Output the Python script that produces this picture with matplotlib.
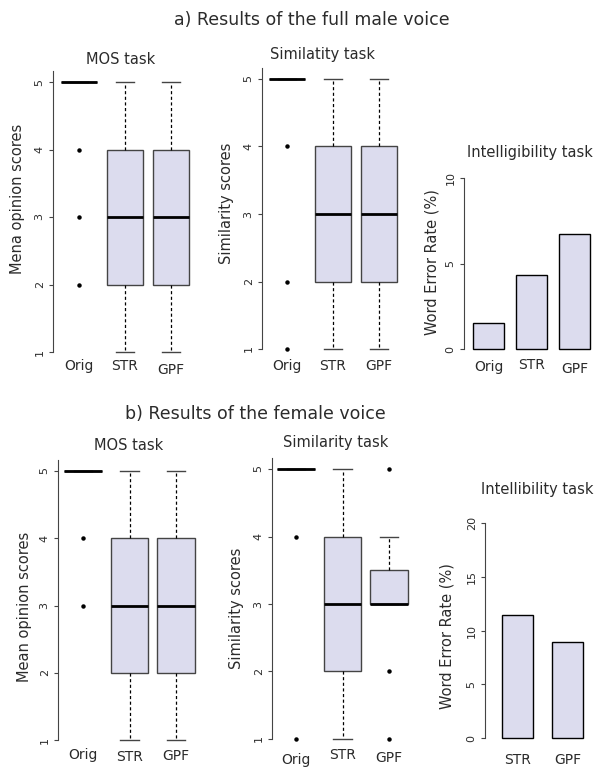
import matplotlib
matplotlib.use('Agg')
import matplotlib.pyplot as plt

# ---- data ----
groups = ['Orig', 'STR', 'GPF']

# box statistics (q1, median, q3, whisker low, whisker high, outliers)
mos_male_q1 = [5, 2, 2]
mos_male_med = [5, 3, 3]
mos_male_q3 = [5, 4, 4]
mos_male_lo = [5, 1, 1]
mos_male_hi = [5, 5, 5]
mos_male_out = [[4, 3, 2], [], []]

sim_male_q1 = [5, 2, 2]
sim_male_med = [5, 3, 3]
sim_male_q3 = [5, 4, 4]
sim_male_lo = [5, 1, 1]
sim_male_hi = [5, 5, 5]
sim_male_out = [[4, 2, 1], [], []]

mos_female_q1 = [5, 2, 2]
mos_female_med = [5, 3, 3]
mos_female_q3 = [5, 4, 4]
mos_female_lo = [5, 1, 1]
mos_female_hi = [5, 5, 5]
mos_female_out = [[4, 3], [], []]

sim_female_q1 = [5, 2, 3]
sim_female_med = [5, 3, 3]
sim_female_q3 = [5, 4, 3.5]
sim_female_lo = [5, 1, 3]
sim_female_hi = [5, 5, 4]
sim_female_out = [[4, 1], [], [5, 2, 1]]

wer_male_groups = ['Orig', 'STR', 'GPF']
wer_male = [1.5, 4.3, 6.7]
wer_female_groups = ['STR', 'GPF']
wer_female = [11.4, 8.9]

# ---- style ----
W, H = 594, 767
BOX_FACE = '#dcdcee'
TXT = '#2b2b2b'
AX = '#444444'

plt.rcParams['font.family'] = 'DejaVu Sans'
fig = plt.figure(figsize=(W / 100, H / 100), dpi=100)


def fx(px):
    return px / W


def fy(py):
    return 1 - py / H


def make_axes(spine, c_first, c_last, n, top_px, bot_px, vtop, vbot, xpad=0.5, ypad=0.04):
    ppx = (c_last - c_first) / (n - 1)
    x0 = 1 - (c_first - spine) / ppx
    x1 = n + xpad
    rng = vtop - vbot
    ppy = (bot_px - top_px) / rng
    top = top_px - ypad * rng * ppy
    bottom = bot_px + ypad * rng * ppy
    right = c_last + xpad * ppx
    ax = fig.add_axes([fx(spine), fy(bottom), (right - spine) / W, (bottom - top) / H])
    ax.set_xlim(x0, x1)
    ax.set_ylim(vbot - ypad * rng, vtop + ypad * rng)
    for s in ['top', 'right', 'bottom']:
        ax.spines[s].set_visible(False)
    ax.spines['left'].set_color(AX)
    ax.set_xticks([])
    ax.tick_params(axis='y', length=3, pad=3, labelsize=8, labelcolor=TXT,
                   color=AX, labelrotation=90)
    for lab in ax.get_yticklabels():
        lab.set_va('center')
    return ax


def x_labels(ax, names, vbot, offsets):
    for i, (name, off) in enumerate(zip(names, offsets)):
        ax.annotate(name, xy=(i + 1, vbot), xycoords='data',
                    xytext=(0, -off), textcoords='offset pixels',
                    ha='center', va='center', fontsize=10, color=TXT,
                    annotation_clip=False)


def box_panel(ax, q1, med, q3, lo, hi, out):
    stats = []
    for i in range(len(q1)):
        stats.append(dict(q1=q1[i], med=med[i], q3=q3[i], whislo=lo[i],
                          whishi=hi[i], fliers=out[i]))
    ax.bxp(stats, positions=[1, 2, 3], widths=0.8, capwidths=0.4,
           patch_artist=True, showfliers=True,
           boxprops=dict(facecolor=BOX_FACE, edgecolor=AX, linewidth=1),
           medianprops=dict(color='black', linewidth=2, solid_capstyle='butt'),
           whiskerprops=dict(color='black', linewidth=0.9, linestyle=(0, (2.5, 2))),
           capprops=dict(color=AX, linewidth=1),
           flierprops=dict(marker='o', markersize=2.2, markerfacecolor='black',
                           markeredgecolor='black'))
    ax.set_yticks([1, 2, 3, 4, 5])
    ax.spines['left'].set_bounds(1, ax.get_ylim()[1])
    ax.set_xticks([])


def bar_panel(ax, values, width, ticks):
    pos = list(range(1, len(values) + 1))
    ax.bar(pos, values, width=width, color=BOX_FACE, edgecolor='black', linewidth=1)
    ax.set_yticks(ticks)
    ax.spines['left'].set_bounds(ticks[0], ticks[-1])
    ax.set_xticks([])


def ftext(x, y, s, size, rot=0):
    fig.text(fx(x), fy(y), s, ha='center', va='center', fontsize=size,
             color=TXT, rotation=rot)


# ---- a) male voice ----
ftext(312, 20, 'a) Results of the full male voice', 12.5)

a1 = make_axes(53, 79, 171, 3, 82, 352, 5, 1)
box_panel(a1, mos_male_q1, mos_male_med, mos_male_q3, mos_male_lo, mos_male_hi, mos_male_out)
x_labels(a1, groups, 1, [14, 14, 18])
ftext(121, 60, 'MOS task', 10.5)
ftext(18, 199, 'Mena opinion scores', 10.5, 90)

a2 = make_axes(262, 287, 379, 3, 79, 349, 5, 1)
box_panel(a2, sim_male_q1, sim_male_med, sim_male_q3, sim_male_lo, sim_male_hi, sim_male_out)
x_labels(a2, groups, 1, [17, 17, 17])
ftext(323, 54, 'Similatity task', 10.5)
ftext(227, 203, 'Similarity scores', 10.5, 90)

a3 = make_axes(464, 488.5, 574.5, 3, 178, 349, 10, 0)
bar_panel(a3, wer_male, 0.72, [0, 5, 10])
x_labels(a3, wer_male_groups, 0, [18, 16, 20])
ftext(530, 153, 'Intelligibility task', 10.5)
ftext(432, 262, 'Word Error Rate (%)', 10.5, 90)

# ---- b) female voice ----
ftext(255, 414, 'b) Results of the female voice', 12.5)

b1 = make_axes(58, 83, 176, 3, 471, 740, 5, 1)
box_panel(b1, mos_female_q1, mos_female_med, mos_female_q3, mos_female_lo, mos_female_hi, mos_female_out)
x_labels(b1, groups, 1, [15, 17, 16])
ftext(129, 446, 'MOS task', 10.5)
ftext(25, 607, 'Mean opinion scores', 10.5, 90)

b2 = make_axes(272, 296, 389, 3, 469, 739, 5, 1)
box_panel(b2, sim_female_q1, sim_female_med, sim_female_q3, sim_female_lo, sim_female_hi, sim_female_out)
x_labels(b2, groups, 1, [21, 16, 19])
ftext(336, 443, 'Similarity task', 10.5)
ftext(237, 608, 'Similarity scores', 10.5, 90)

b3 = make_axes(485, 517.5, 567.5, 2, 523, 738, 20, 0, xpad=0.6)
bar_panel(b3, wer_female, 0.62, [0, 5, 10, 15, 20])
x_labels(b3, wer_female_groups, 0, [22, 22])
ftext(537, 490, 'Intellibility task', 10.5)
ftext(447, 636, 'Word Error Rate (%)', 10.5, 90)

fig.savefig('out.png', dpi=100)
